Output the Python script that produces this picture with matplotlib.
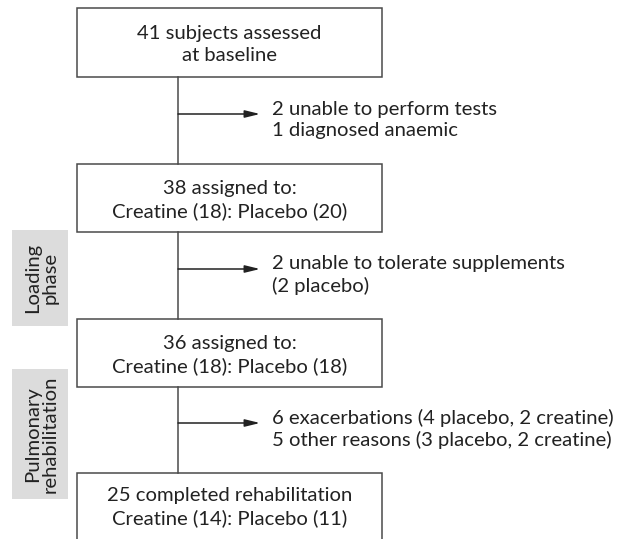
import matplotlib.pyplot as plt
from matplotlib.patches import Rectangle

# ---------------------------------------------------------------
# Flow of subjects through the trial
# ---------------------------------------------------------------
box_texts = [
    "41 subjects assessed\nat baseline",
    "38 assigned to:\nCreatine (18): Placebo (20)",
    "36 assigned to:\nCreatine (18): Placebo (18)",
    "25 completed rehabilitation\nCreatine (14): Placebo (11)",
]
dropout_texts = [
    "2 unable to perform tests\n1 diagnosed anaemic",
    "2 unable to tolerate supplements\n(2 placebo)",
    "6 exacerbations (4 placebo, 2 creatine)\n5 other reasons (3 placebo, 2 creatine)",
]
phase_labels = ["Loading\nphase", "Pulmonary\nrehabilitation"]

# layout in pixel coordinates (origin top-left)
W, H = 624, 539
box_left, box_right = 77, 382
box_tops = [8, 164, 319, 473]
box_bottoms = [77, 232, 387, 560]
spine_x = 178
arrow_y = [114, 269, 423]
arrow_end = 260
drop_text_x = 272
phase_boxes = [(12, 230, 68, 326), (12, 369, 68, 499)]

line_col = "#4a4a4a"
text_col = "#222222"
FONT = "Lato"
FS = 14.6

fig = plt.figure(figsize=(W / 100, H / 100), dpi=100)
ax = fig.add_axes([0, 0, 1, 1])
ax.set_xlim(0, W)
ax.set_ylim(H, 0)
ax.axis("off")

# boxes
for txt, top, bot in zip(box_texts, box_tops, box_bottoms):
    ax.add_patch(Rectangle((box_left, top), box_right - box_left, bot - top,
                           facecolor="white", edgecolor=line_col, linewidth=1.1))
    cy = top + 34 if bot > H else (top + bot) / 2 + 2
    ax.text((box_left + box_right) / 2, cy, txt, ha="center", va="center",
            fontsize=FS, family=FONT, color=text_col, linespacing=1.3)

# vertical connectors
for i in range(3):
    ax.plot([spine_x, spine_x], [box_bottoms[i], box_tops[i + 1]],
            color=line_col, linewidth=1.1)

# side arrows + dropout text
for y, txt in zip(arrow_y, dropout_texts):
    ax.annotate("", xy=(arrow_end, y), xytext=(spine_x, y),
                arrowprops=dict(arrowstyle="-|>,head_length=0.9,head_width=0.22",
                                color="#222222", lw=1.1, shrinkA=0, shrinkB=0))
    ax.text(drop_text_x, y + 6, txt, ha="left", va="center",
            fontsize=FS, family=FONT, color=text_col, linespacing=1.3)

# phase labels on the left
for (x0, y0, x1, y1), lab in zip(phase_boxes, phase_labels):
    ax.add_patch(Rectangle((x0, y0), x1 - x0, y1 - y0,
                           facecolor="#dcdcdc", edgecolor="none"))
    ax.text((x0 + x1) / 2 + 1, (y0 + y1) / 2, lab, ha="center", va="center",
            rotation=90, fontsize=FS, family=FONT, color=text_col,
            linespacing=1.05)

fig.savefig("out.png", dpi=100)
